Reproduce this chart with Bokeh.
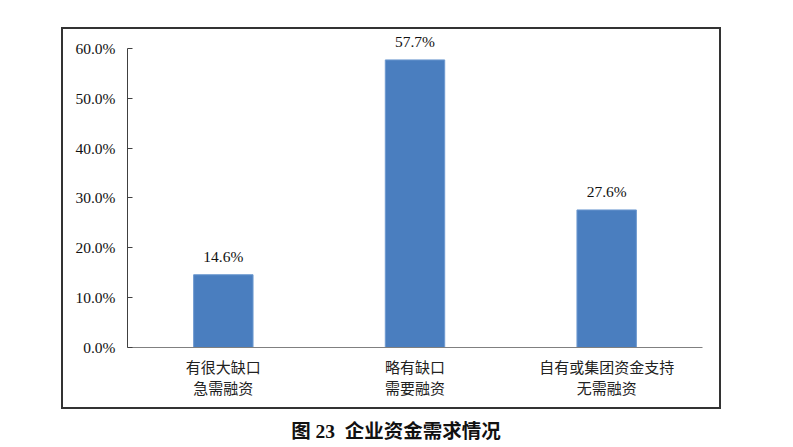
from bokeh.plotting import figure
from bokeh.models import FactorRange, FixedTicker, ColumnDataSource, CategoricalAxis, CustomJSTickFormatter, Div, Spacer
from bokeh.layouts import column, row
from bokeh.core.properties import value
from bokeh.embed import file_html
from bokeh.resources import INLINE

categories = ["有很大缺口", "略有缺口", "自有或集团资金支持"]
category_line2 = ["急需融资", "需要融资", "无需融资"]
values = [14.6, 57.7, 27.6]
y_ticks = [0, 10, 20, 30, 40, 50, 60]
y_tick_labels = ["0.0%", "10.0%", "20.0%", "30.0%", "40.0%", "50.0%", "60.0%"]
title_text = "图 23&nbsp;&nbsp;企业资金需求情况"

serif = "'Liberation Serif', 'Times New Roman', 'Noto Sans CJK SC', serif"
cjk = "'Noto Sans CJK SC', sans-serif"

p = figure(width=660, height=382, x_range=FactorRange(*categories, range_padding=0),
           y_range=(0, 63), output_backend="svg", toolbar_location=None,
           min_border_left=64, min_border_right=21, min_border_top=4, min_border_bottom=64,
           styles={"border": "2px solid #333333"})

src = ColumnDataSource(dict(x=categories, y=values, t=[f"{v:.1f}%" for v in values]))
p.vbar(x="x", top="y", width=0.31, source=src, fill_color="#4A7EBF", line_color="#6E9AD0", line_width=1)
p.text(x="x", y="y", text="t", source=src, text_align="center", text_baseline="bottom",
       y_offset=-10, text_font=value(serif), text_font_size="15.5px", text_color="#111111")

p.xgrid.visible = False
p.ygrid.visible = False
p.outline_line_color = None

ya = p.yaxis[0]
ya.ticker = FixedTicker(ticks=y_ticks)
ya.bounds = (0, 60)
ya.major_label_overrides = {t: l for t, l in zip(y_ticks, y_tick_labels)}
ya.major_tick_in = 5
ya.major_tick_out = 0
ya.minor_tick_line_color = None
ya.axis_line_color = "#404040"
ya.major_tick_line_color = "#404040"
ya.major_label_standoff = 12
ya.major_label_text_font = serif
ya.major_label_text_font_size = "15.5px"
ya.major_label_text_color = "#111111"

xa = p.xaxis[0]
xa.major_tick_in = 0
xa.major_tick_out = 0
xa.axis_line_color = "#808080"
xa.major_label_standoff = 8
xa.major_label_text_font = cjk
xa.major_label_text_font_size = "15px"
xa.major_label_text_color = "#222222"

fmt2 = CustomJSTickFormatter(args=dict(keys=categories, vals=category_line2),
                             code="const i = keys.indexOf(tick); return i >= 0 ? vals[i] : '';")
xa2 = CategoricalAxis(major_tick_in=0, major_tick_out=0, axis_line_color=None,
                      major_label_standoff=-3, formatter=fmt2,
                      major_label_text_font=cjk, major_label_text_font_size="15px",
                      major_label_text_color="#222222")
p.add_layout(xa2, "below")

title = Div(text=title_text, width=660, height=36,
            styles={"text-align": "center", "font-family": serif, "font-size": "19.5px",
                    "font-weight": "bold", "color": "#111111", "line-height": "36px"})

layout = column(Spacer(height=27),
                row(Spacer(width=61), p),
                row(Spacer(width=61), title))

open("out.html", "w").write(file_html(layout, INLINE))
